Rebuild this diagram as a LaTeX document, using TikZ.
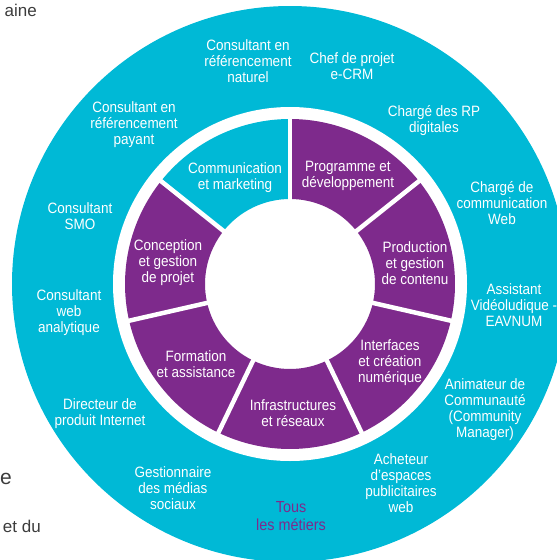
\documentclass[tikz,border=0pt]{standalone}
\usepackage{fontspec}
\setmainfont{Liberation Sans}[FakeStretch=0.9]
\newfontfamily\pagefont{Liberation Sans}
\usepackage{xcolor}
\usepackage{tikz}

\definecolor{ringcyan}{RGB}{0,185,214}
\definecolor{ringpurple}{RGB}{126,42,140}
\definecolor{pagegray}{RGB}{60,60,60}

\tikzset{
  metier/.style={text=white, align=center, inner sep=0pt,
    font=\fontsize{15}{16}\selectfont},
  tous/.style={metier, text=ringpurple, font=\fontsize{16}{18}\selectfont},
  pagetext/.style={text=pagegray, inner sep=0pt, anchor=base east,
    font=\pagefont\fontsize{17}{20}\selectfont}
}

\begin{document}
\begin{tikzpicture}[x=1pt,y=-1pt]
\useasboundingbox (0,0) rectangle (557,560);
\clip (0,0) rectangle (557,560);
%cercle exterieur
\fill[ringcyan] (290,284) circle (278);
\fill[white] (290,284) circle (177);
%secteurs
\begin{scope}[shift={(290,284)}]
\foreach \k/\col in {0/ringpurple,1/ringpurple,2/ringpurple,3/ringpurple,4/ringpurple,5/ringpurple,6/ringcyan}{
  \pgfmathsetmacro\a{-90+\k*360/7}
  \pgfmathsetmacro\b{-90+(\k+1)*360/7}
  \fill[\col] (\a:85) arc[start angle=\a, end angle=\b, radius=85]
    -- (\b:165) arc[start angle=\b, end angle=\a, radius=165] -- cycle;
}
\foreach \k in {0,...,6}{
  \pgfmathsetmacro\a{-90+\k*360/7}
  \draw[white, line width=4.5pt] (\a:80) -- (\a:170);
}
\end{scope}
%Domaines
\node[metier] (marketing) at (235,178) {Communication\\et marketing};
\node[metier] (programme) at (348,176) {Programme et\\développement};
\node[metier] (production) at (415,263) {Production\\et gestion\\de contenu};
\node[metier] (interfaces) at (390,363) {Interfaces\\et création\\numérique};
\node[metier] (infra) at (293,413) {Infrastructures\\et réseaux};
\node[metier] (formation) at (196,364) {Formation\\et assistance};
\node[metier] (conception) at (168,263) {Conception\\et gestion\\de projet};
%Metiers
\node[metier] (naturel) at (248,61) {Consultant en\\référencement\\naturel};
\node[metier] (ecrm) at (352,66) {Chef de projet\\e-CRM};
\node[metier] (rp) at (434,121) {Chargé des RP\\digitales};
\node[metier] (comweb) at (502,203) {Chargé de\\communication\\Web};
\node[metier] (eavnum) at (514,305) {Assistant\\Vidéoludique -\\EAVNUM};
\node[metier] (cm) at (485,410) {Animateur de\\Communauté\\(Community\\Manager)};
\node[metier] (acheteur) at (401,483) {Acheteur\\d’espaces\\publicitaires\\web};
\node[tous] (tous) at (291,516) {Tous\\les métiers};
\node[metier] (medias) at (173,488) {Gestionnaire\\des médias\\sociaux};
\node[metier] (directeur) at (100,414) {Directeur de\\produit Internet};
\node[metier] (analytique) at (69,313) {Consultant\\web\\analytique};
\node[metier] (smo) at (80,216) {Consultant\\SMO};
\node[metier] (payant) at (134,125) {Consultant en\\référencement\\payant};
%Texte de la page
\node[pagetext] (haut) at (37,16) {aine};
\node[pagetext, font=\pagefont\fontsize{21}{24}\selectfont] (milieu) at (12,484) {e};
\node[pagetext] (bas) at (41,532) {et du};
\end{tikzpicture}
\end{document}
